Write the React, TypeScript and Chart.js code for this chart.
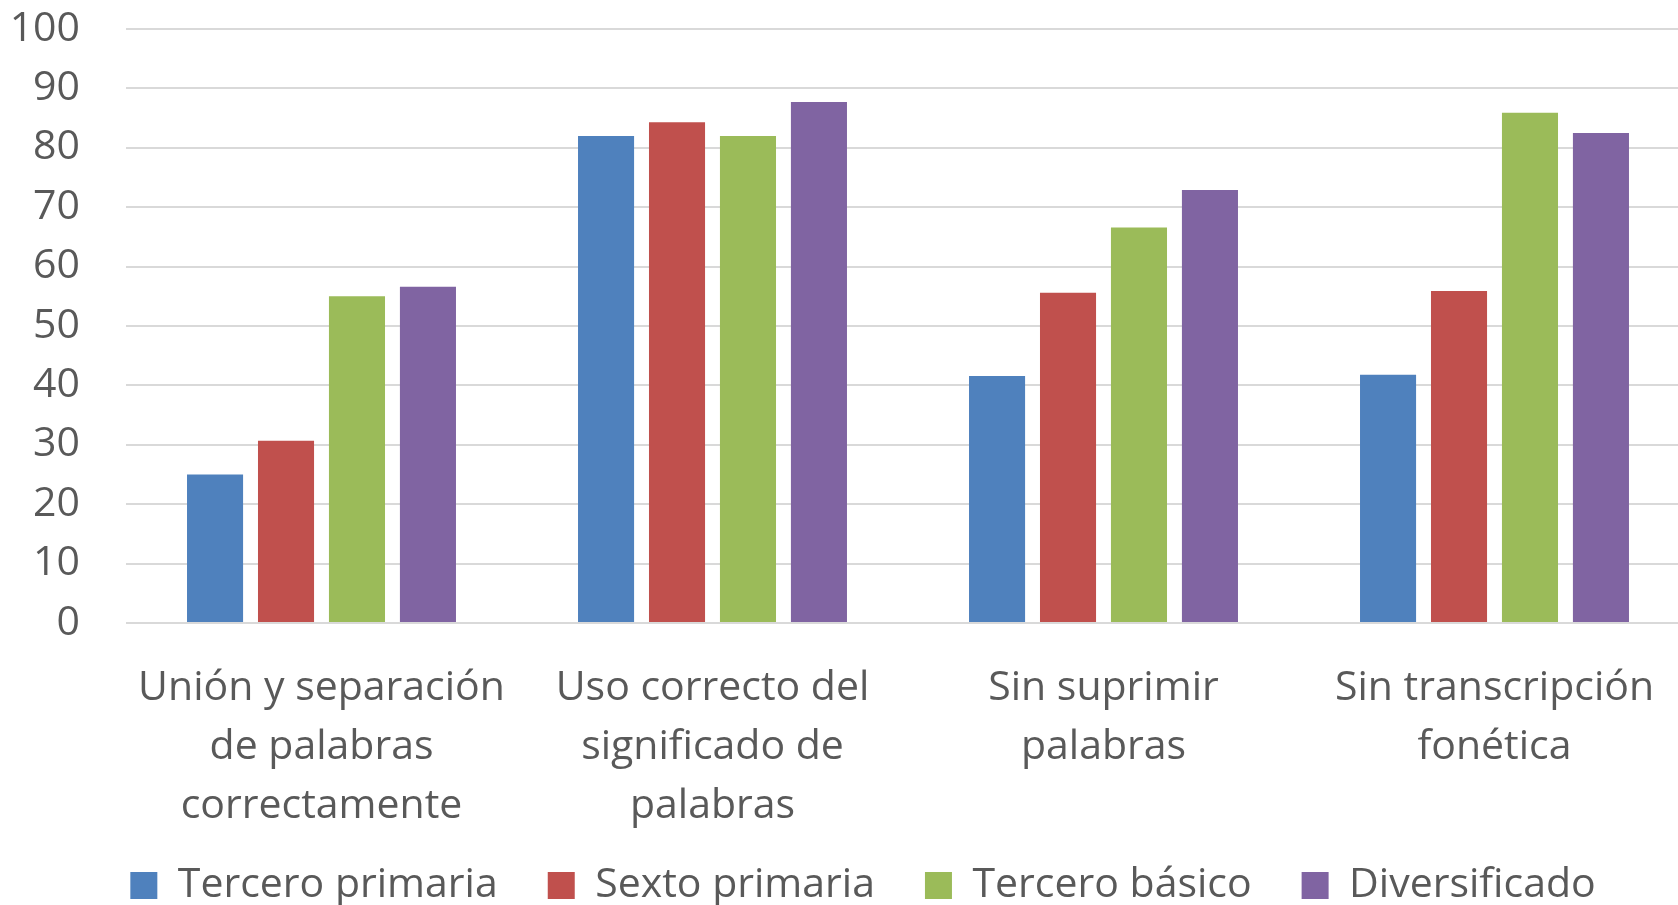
import React, { useEffect, useRef } from "react";
import { Chart, registerables } from "chart.js";

Chart.register(...registerables);

const categories: string[][] = [
  ["Unión y separación", "de palabras", "correctamente"],
  ["Uso correcto del", "significado de", "palabras"],
  ["Sin suprimir", "palabras"],
  ["Sin transcripción", "fonética"],
];
const seriesNames = ["Tercero primaria", "Sexto primaria", "Tercero básico", "Diversificado"];
const terceroPrimaria = [25, 82, 41.6, 41.8];
const sextoPrimaria = [30.7, 84.3, 55.6, 55.9];
const terceroBasico = [55, 82, 66.6, 85.9];
const diversificado = [56.6, 87.7, 72.9, 82.5];
const seriesColors = ["#4F81BD", "#C0504D", "#9BBB59", "#8064A2"];
const yMin = 0;
const yMax = 100;
const yStep = 10;

const FONT = "'Open Sans', 'Noto Sans', sans-serif";
const TEXT = "#595959";

const legendShift = {
  id: "legendShift",
  afterLayout(chart: any) {
    const lg = chart.legend;
    if (!lg) return;
    lg.left += 18;
    lg.right += 18;
    lg.top -= 23;
    lg.bottom -= 23;
  },
};

export default function App() {
  const ref = useRef<HTMLCanvasElement | null>(null);
  useEffect(() => {
    document.body.style.margin = "0";
    const values = [terceroPrimaria, sextoPrimaria, terceroBasico, diversificado];
    const chart = new Chart(ref.current!, {
      type: "bar",
      data: {
        labels: categories,
        datasets: seriesNames.map((name, i) => ({
          label: name,
          data: values[i],
          backgroundColor: seriesColors[i],
          borderWidth: 0,
          categoryPercentage: 0.726,
          barPercentage: 0.79,
        })),
      },
      plugins: [legendShift],
      options: {
        responsive: false,
        animation: false,
        devicePixelRatio: 1,
        layout: { padding: { top: 29, left: 0, right: 0, bottom: 0 } },
        plugins: {
          legend: {
            position: "bottom",
            labels: {
              boxWidth: 27,
              boxHeight: 27,
              padding: 50,
              color: TEXT,
              font: { family: FONT, size: 41 },
            },
          },
          tooltip: { enabled: false },
        },
        scales: {
          x: {
            grid: { display: false },
            border: { display: false },
            ticks: {
              color: TEXT,
              font: { family: FONT, size: 41, lineHeight: "59px" as any },
              padding: 28,
              maxRotation: 0,
              autoSkip: false,
            },
            afterFit: (s: any) => {
              s.height = 215;
            },
          },
          y: {
            min: yMin,
            max: yMax,
            grid: {
              color: "#D9D9D9",
              lineWidth: 2,
              drawTicks: true,
              tickLength: 46,
              tickColor: "rgba(0,0,0,0)",
            },
            border: { display: false },
            ticks: {
              stepSize: yStep,
              color: TEXT,
              padding: 0,
              font: { family: FONT, size: 41 },
            },
            afterFit: (s: any) => {
              s.width = 126;
            },
          },
        },
      },
    });
    return () => chart.destroy();
  }, []);
  return (
    <div style={{ position: "fixed", left: 0, top: 0, width: 1678, height: 905, overflow: "hidden", background: "#fff" }}>
      <canvas ref={ref} width={1690} height={939} />
    </div>
  );
}
